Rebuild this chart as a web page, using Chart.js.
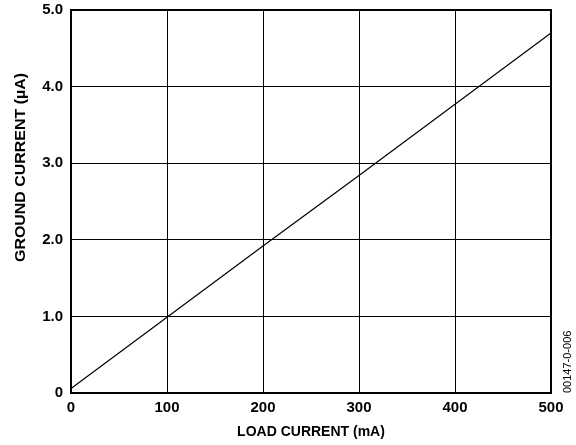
<!DOCTYPE html>
<html>
<head>
	<title>Ground Current vs Load Current</title>
	<script src="https://cdn.jsdelivr.net/npm/chart.js@4.4.0/dist/chart.umd.min.js"></script>
	<meta charset="utf-8"/>
	<style>
		html, body { margin: 0; padding: 0; background: #fff; }
		#chart-container { width: 576px; height: 445px; }
	</style>
</head>
<body>
    <div id="chart-container">
        <canvas id="myChart" width="576" height="445"></canvas>
    </div>

    <script>
        // values
        var loadCurrent = [0, 100, 200, 300, 400, 500];          // mA
        var groundCurrent = [0.06, 0.99, 1.92, 2.84, 3.77, 4.70]; // uA
        var xTicks = [0, 100, 200, 300, 400, 500];
        var yTicks = [0, 1, 2, 3, 4, 5];
        var yTitle = 'GROUND CURRENT (\u00b5A)';
        var figureCode = '00147-0-006';

        var font = "'Liberation Sans', Arial, sans-serif";

        var points = [];
        for (var i = 0; i < loadCurrent.length; i++) {
            points.push({x: loadCurrent[i], y: groundCurrent[i]});
        }

        // side texts: y title (sits above centre in the original) and figure code
        var sideText = {
            id: 'sideText',
            afterDraw: function (chart) {
                var ctx = chart.ctx;
                ctx.save();
                ctx.fillStyle = '#000';
                ctx.font = 'bold 14.5px ' + font;
                var w = ctx.measureText(yTitle).width;
                ctx.translate(21, 167.5);
                ctx.rotate(-Math.PI / 2);
                ctx.scale(189 / w, 1);
                ctx.textAlign = 'center';
                ctx.textBaseline = 'middle';
                ctx.fillText(yTitle, 0, 0);
                ctx.restore();

                ctx.save();
                ctx.translate(568, chart.chartArea.bottom);
                ctx.rotate(-Math.PI / 2);
                ctx.font = '11px ' + font;
                ctx.fillStyle = '#000';
                ctx.textAlign = 'left';
                ctx.textBaseline = 'middle';
                ctx.fillText(figureCode, 0, 0);
                ctx.restore();
            }
        };

        new Chart(document.getElementById('myChart'), {
            type: 'scatter',
            data: {
                datasets: [{
                    data: points,
                    showLine: true,
                    borderColor: '#000',
                    borderWidth: 1.2,
                    pointRadius: 0,
                    tension: 0
                }]
            },
            options: {
                responsive: false,
                animation: false,
                devicePixelRatio: 1,
                layout: { padding: { top: 10, right: 25, left: 0, bottom: 0 } },
                plugins: { legend: { display: false }, tooltip: { enabled: false } },
                scales: {
                    x: {
                        type: 'linear',
                        min: 0, max: 500,
                        afterBuildTicks: function (s) { s.ticks = xTicks.map(function (v) { return {value: v}; }); },
                        afterFit: function (s) { s.height = 52; s.paddingLeft = 0; s.paddingRight = 0; },
                        grid: { color: '#000', lineWidth: 1, drawTicks: false },
                        border: { color: '#000', width: 2 },
                        ticks: {
                            color: '#000', padding: 6,
                            font: { family: font, size: 15, weight: 'bold' },
                            maxRotation: 0
                        },
                        title: {
                            display: true, text: 'LOAD CURRENT (mA)', color: '#000',
                            font: { family: font, size: 14, weight: 'bold' },
                            padding: { top: 0, bottom: 4 }
                        }
                    },
                    y: {
                        min: 0, max: 5,
                        afterBuildTicks: function (s) { s.ticks = yTicks.map(function (v) { return {value: v}; }); },
                        afterFit: function (s) { s.width = 71; s.paddingTop = 0; s.paddingBottom = 0; },
                        grid: { color: '#000', lineWidth: 1, drawTicks: false },
                        border: { color: '#000', width: 2 },
                        ticks: {
                            color: '#000', padding: 8,
                            font: { family: font, size: 15, weight: 'bold' },
                            callback: function (v) { return v === 0 ? '0' : v.toFixed(1); }
                        },
                        title: { display: false }
                    }
                }
            },
            plugins: [sideText, {
                id: 'frame',
                afterDatasetsDraw: function (chart) {
                    var a = chart.chartArea, ctx = chart.ctx;
                    ctx.save();
                    ctx.strokeStyle = '#000';
                    ctx.lineWidth = 2;
                    ctx.strokeRect(a.left, a.top, a.right - a.left, a.bottom - a.top);
                    ctx.restore();
                }
            }]
        });
    </script>

</body>
</html>
